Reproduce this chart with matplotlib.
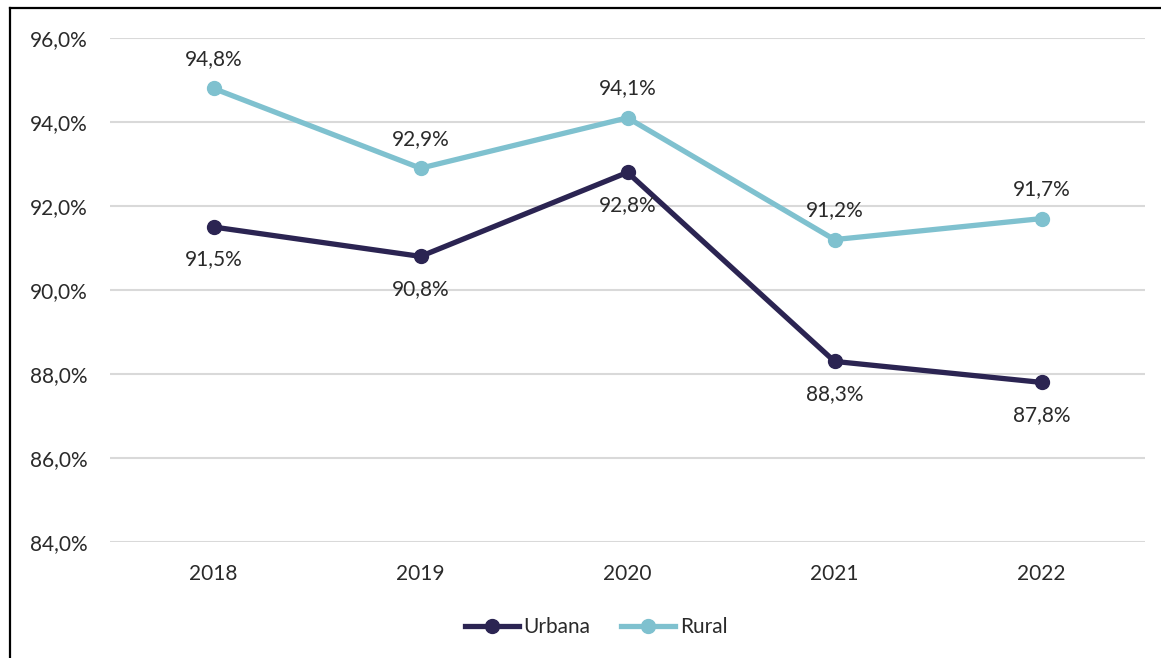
import matplotlib.pyplot as plt
from matplotlib.lines import Line2D

plt.rcParams['font.family'] = ['Lato', 'DejaVu Sans']

years = ['2018', '2019', '2020', '2021', '2022']
urbana = [91.5, 90.8, 92.8, 88.3, 87.8]
rural = [94.8, 92.9, 94.1, 91.2, 91.7]
yticks = [84, 86, 88, 90, 92, 94, 96]

c_urb = '#2b2452'
c_rur = '#7fc1cf'
txt = '#2a2a2a'

fig = plt.figure(figsize=(11.61, 6.58), dpi=100)
ax = fig.add_axes([110 / 1161, 1 - 542 / 658, 1035 / 1161, 504 / 658])

x = list(range(len(years)))
ax.plot(x, urbana, color=c_urb, lw=3.8, marker='o', ms=10, label='Urbana', zorder=3)
ax.plot(x, rural, color=c_rur, lw=3.8, marker='o', ms=10, label='Rural', zorder=3)

def fmt(v):
    return f'{v:.1f}%'.replace('.', ',')

for i, v in enumerate(urbana):
    ax.annotate(fmt(v), (i, v), xytext=(0, -16), textcoords='offset points',
                ha='center', va='top', fontsize=15, color=txt)
for i, v in enumerate(rural):
    ax.annotate(fmt(v), (i, v), xytext=(0, 14), textcoords='offset points',
                ha='center', va='bottom', fontsize=15, color=txt)

ax.set_xlim(-0.5, len(years) - 0.5)
ax.set_ylim(84, 96)
ax.set_xticks(x)
ax.set_xticklabels(years)
ax.set_yticks(yticks)
ax.set_yticklabels([fmt(t) for t in yticks])
ax.tick_params(axis='both', length=0, labelsize=15, colors=txt)
ax.tick_params(axis='y', pad=16)
ax.tick_params(axis='x', pad=16)
ax.grid(axis='y', color='#d9d9d9', lw=1.5)
ax.set_axisbelow(True)
for s in ax.spines.values():
    s.set_visible(False)

leg = fig.legend(loc='center', bbox_to_anchor=(596 / 1161, 1 - 627 / 658), ncol=2,
                 frameon=False, fontsize=15, handlelength=2.6, columnspacing=1.5,
                 handletextpad=0.2)
for t in leg.get_texts():
    t.set_color(txt)

# outer frame (left and top)
fig.add_artist(Line2D([10 / 1161, 10 / 1161], [0, 1 - 8 / 658], color='black', lw=1.6,
                      transform=fig.transFigure))
fig.add_artist(Line2D([10 / 1161, 1], [1 - 8 / 658, 1 - 8 / 658], color='black', lw=1.6,
                      transform=fig.transFigure))

fig.savefig('out.png', dpi=100, facecolor='white')
